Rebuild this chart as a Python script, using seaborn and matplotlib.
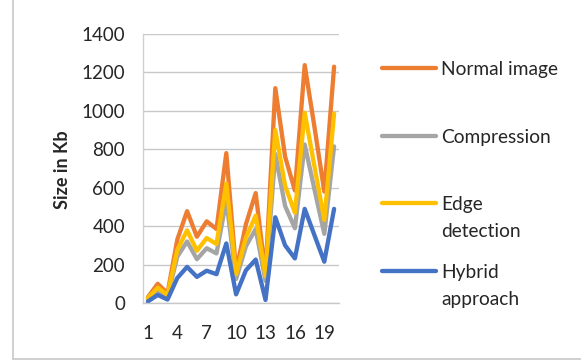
import numpy as np
import pandas as pd
import seaborn as sns
import matplotlib
matplotlib.use("Agg")
import matplotlib.pyplot as plt
from matplotlib.lines import Line2D

# ---- data ----
images = [1, 2, 3, 4, 5, 6, 7, 8, 9, 10, 11, 12, 13, 14, 15, 16, 17, 18, 19, 20]
normal_image = [30, 100, 50, 330, 478, 345, 425, 385, 780, 165, 410, 572, 150, 1118, 762, 585, 1238, 915, 580, 1230]
compression = [20, 62, 33, 241, 320, 228, 285, 258, 535, 125, 295, 385, 115, 775, 505, 389, 825, 590, 360, 815]
edge_detection = [25, 80, 42, 276, 378, 272, 338, 307, 622, 150, 340, 455, 140, 900, 610, 470, 990, 710, 432, 985]
hybrid_approach = [8, 42, 18, 130, 188, 136, 168, 150, 310, 45, 170, 226, 16, 446, 300, 232, 490, 352, 215, 490]

series_names = ["Normal image", "Compression", "Edge detection", "Hybrid approach"]
legend_labels = ["Normal image", "Compression", "Edge\ndetection", "Hybrid\napproach"]
x_ticks = [1, 4, 7, 10, 13, 16, 19]
y_ticks = [0, 200, 400, 600, 800, 1000, 1200, 1400]
colors = ["#ED7D31", "#A5A5A5", "#FFC000", "#4472C4"]

df = pd.concat([
    pd.DataFrame({"image": images, "size": vals, "series": name})
    for name, vals in zip(series_names, [normal_image, compression, edge_detection, hybrid_approach])
], ignore_index=True)

sns.set_theme(style="white")
plt.rcParams["font.family"] = ["Lato", "DejaVu Sans"]
text_color = "#262626"

W, H = 581, 361
fig = plt.figure(figsize=(W / 100, H / 100), dpi=100)
fig.patch.set_facecolor("white")

def fx(px):
    return px / W

def fy(py):
    return 1 - py / H

ax_left, ax_right, ax_top, ax_bottom = 143, 339, 34, 303
ax = fig.add_axes([fx(ax_left), fy(ax_bottom), fx(ax_right - ax_left), (ax_bottom - ax_top) / H])

sns.lineplot(data=df, x="image", y="size", hue="series", hue_order=series_names,
             palette=colors, linewidth=3.1, legend=False, ax=ax, clip_on=False)

ax.set_xlim(0.5, 20.5)
ax.set_ylim(0, 1400)
ax.set_xticks(x_ticks)
ax.set_yticks(y_ticks)
ax.set_xticklabels([str(t) for t in x_ticks])
ax.set_yticklabels([str(t) for t in y_ticks])
ax.tick_params(axis="both", length=0, labelsize=13.5, colors=text_color)
ax.tick_params(axis="y", pad=13)
ax.tick_params(axis="x", pad=16)
ax.set_xlabel("")
ax.set_ylabel("")
ax.yaxis.grid(True, color="#C8C8C8", linewidth=1.0)
ax.xaxis.grid(False)
ax.set_axisbelow(True)
for side in ["top", "right"]:
    ax.spines[side].set_visible(False)
ax.spines["left"].set_color("#D0D0D0")
ax.spines["left"].set_linewidth(1.0)
ax.spines["bottom"].set_color("#C8C8C8")
ax.spines["bottom"].set_linewidth(1.0)

# y label
fig.text(fx(62), fy(170), "Size in Kb", rotation=90, ha="center", va="center",
         fontsize=13, fontweight="bold", color=text_color)

# manual legend (Excel style, handle aligned with first text line)
leg_y = [68, 136, 203, 271]
for lab, col, yy in zip(legend_labels, colors, leg_y):
    fig.add_artist(Line2D([fx(382), fx(436)], [fy(yy), fy(yy)], color=col,
                          linewidth=3.1, solid_capstyle="round", transform=fig.transFigure))
    lines = lab.split("\n")
    for k, ln in enumerate(lines):
        fig.text(fx(441), fy(yy + k * 27), ln, ha="left", va="center_baseline",
                 fontsize=13.8, color=text_color)

# chart-area border (partially visible in the reference)
fig.add_artist(Line2D([fx(13), fx(13)], [fy(0), fy(359)], color="#C8C8C8", linewidth=1.2,
                      transform=fig.transFigure))
fig.add_artist(Line2D([fx(13), fx(581)], [fy(359), fy(359)], color="#C8C8C8", linewidth=1.2,
                      transform=fig.transFigure))

fig.savefig("out.png", dpi=100, facecolor="white")
